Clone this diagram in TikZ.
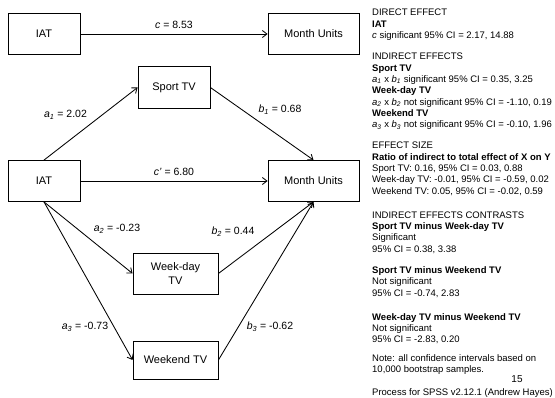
\documentclass[tikz,border=0pt]{standalone}
\usepackage{fontspec}
\setmainfont{Liberation Sans}
\usetikzlibrary{arrows.meta}
\newcommand{\sv}[2]{\textit{#1}\textsubscript{\textit{#2}}}
\begin{document}
\begin{tikzpicture}[x=1pt, y=-1pt,
        var/.style = {draw, line width=0.85pt, minimum width=72pt, minimum height=41pt,
            inner sep=0pt, font=\fontsize{11}{13.5}\selectfont, align=center},
        path/.style = {draw, line width=0.85pt, -{Straight Barb[length=4.5pt,width=7pt]}},
        coef/.style = {inner sep=0pt, font=\fontsize{10.5}{12}\selectfont},
        info/.style = {anchor=north west, inner sep=0pt, align=left,
            font=\fontsize{9.5}{11.3}\selectfont}]
    \useasboundingbox (0,0) rectangle (555,398);
        \node[var] (iatTop) at (44,34) {IAT};
        \node[var, minimum width=91pt] (unitsTop) at (313.5,34) {Month Units};
        \draw[path] (iatTop) -- (unitsTop) node[coef, midway, above=5pt] {\textit{c} = 8.53};

        \node[var] (iat) at (44,181) {IAT};
        \node[var, minimum width=91pt] (units) at (313.5,181) {Month Units};
        \node[var, minimum height=42pt] (sport) at (174,87.5) {Sport TV};
        \node[var, minimum width=85pt] (weekday) at (175.5,273.5) {Week-day\\TV};
        \node[var, minimum width=85pt, minimum height=38pt] (weekend) at (175.5,360) {Weekend TV};

        \draw[path] (iat.north) -- (sport.west);
        \draw[path] (sport.east) -- (units.north);
        \draw[path] (iat.east) -- (units.west) node[coef, midway, above=5pt] {\textit{c’} = 6.80};
        \draw[path] (iat.south) -- (weekday.west);
        \draw[path] (iat.south) -- (weekend.west);
        \draw[path] (weekday.east) -- (units.south);
        \draw[path] (weekend.east) -- (units.south);

        \node[coef] (a1) at (65.5,115) {\sv{a}{1} = 2.02};
        \node[coef] (b1) at (280,110) {\sv{b}{1} = 0.68};
        \node[coef] (a2) at (117,229) {\sv{a}{2} = -0.23};
        \node[coef] (b2) at (233,232) {\sv{b}{2} = 0.44};
        \node[coef] (a3) at (85,327) {\sv{a}{3} = -0.73};
        \node[coef] (b3) at (270,327) {\sv{b}{3} = -0.62};

        \node[info] (direct) at (372,9) {DIRECT EFFECT\\
            \textbf{IAT}\\
            \textit{c} significant 95\% CI = 2.17, 14.88};
        \node[info] (indirect) at (372,53) {INDIRECT EFFECTS\\
            \textbf{Sport TV}\\
            \sv{a}{1} x \sv{b}{1} significant 95\% CI = 0.35, 3.25\\
            \textbf{Week-day TV}\\
            \sv{a}{2} x \sv{b}{2} not significant 95\% CI = -1.10, 0.19\\
            \textbf{Weekend TV}\\
            \sv{a}{3} x \sv{b}{3} not significant 95\% CI = -0.10, 1.96};
        \node[info] (size) at (372,142) {EFFECT SIZE\\
            \textbf{Ratio of indirect to total effect of X on Y}\\
            Sport TV: 0.16, 95\% CI = 0.03, 0.88\\
            Week-day TV: -0.01, 95\% CI = -0.59, 0.02\\
            Weekend TV: 0.05, 95\% CI = -0.02, 0.59};
        \node[info] (contrasts) at (372,211.5) {INDIRECT EFFECTS CONTRASTS\\
            \textbf{Sport TV minus Week-day TV}\\
            Significant\\
            95\% CI = 0.38, 3.38};
        \node[info] (sportWeekend) at (372,266.5) {\textbf{Sport TV minus Weekend TV}\\
            Not significant\\
            95\% CI = -0.74, 2.83};
        \node[info] (weekdayWeekend) at (372,313) {\textbf{Week-day TV minus Weekend TV}\\
            Not significant\\
            95\% CI = -2.83, 0.20};
        \node[info] (note) at (372,354.5) {Note: all confidence intervals based on\\
            10,000 bootstrap samples.};
        \node[coef, font=\fontsize{10}{12}\selectfont] (page) at (517,379) {15};
        \node[info] (process) at (372,388) {Process for SPSS v2.12.1 (Andrew Hayes)};
\end{tikzpicture}
\end{document}
